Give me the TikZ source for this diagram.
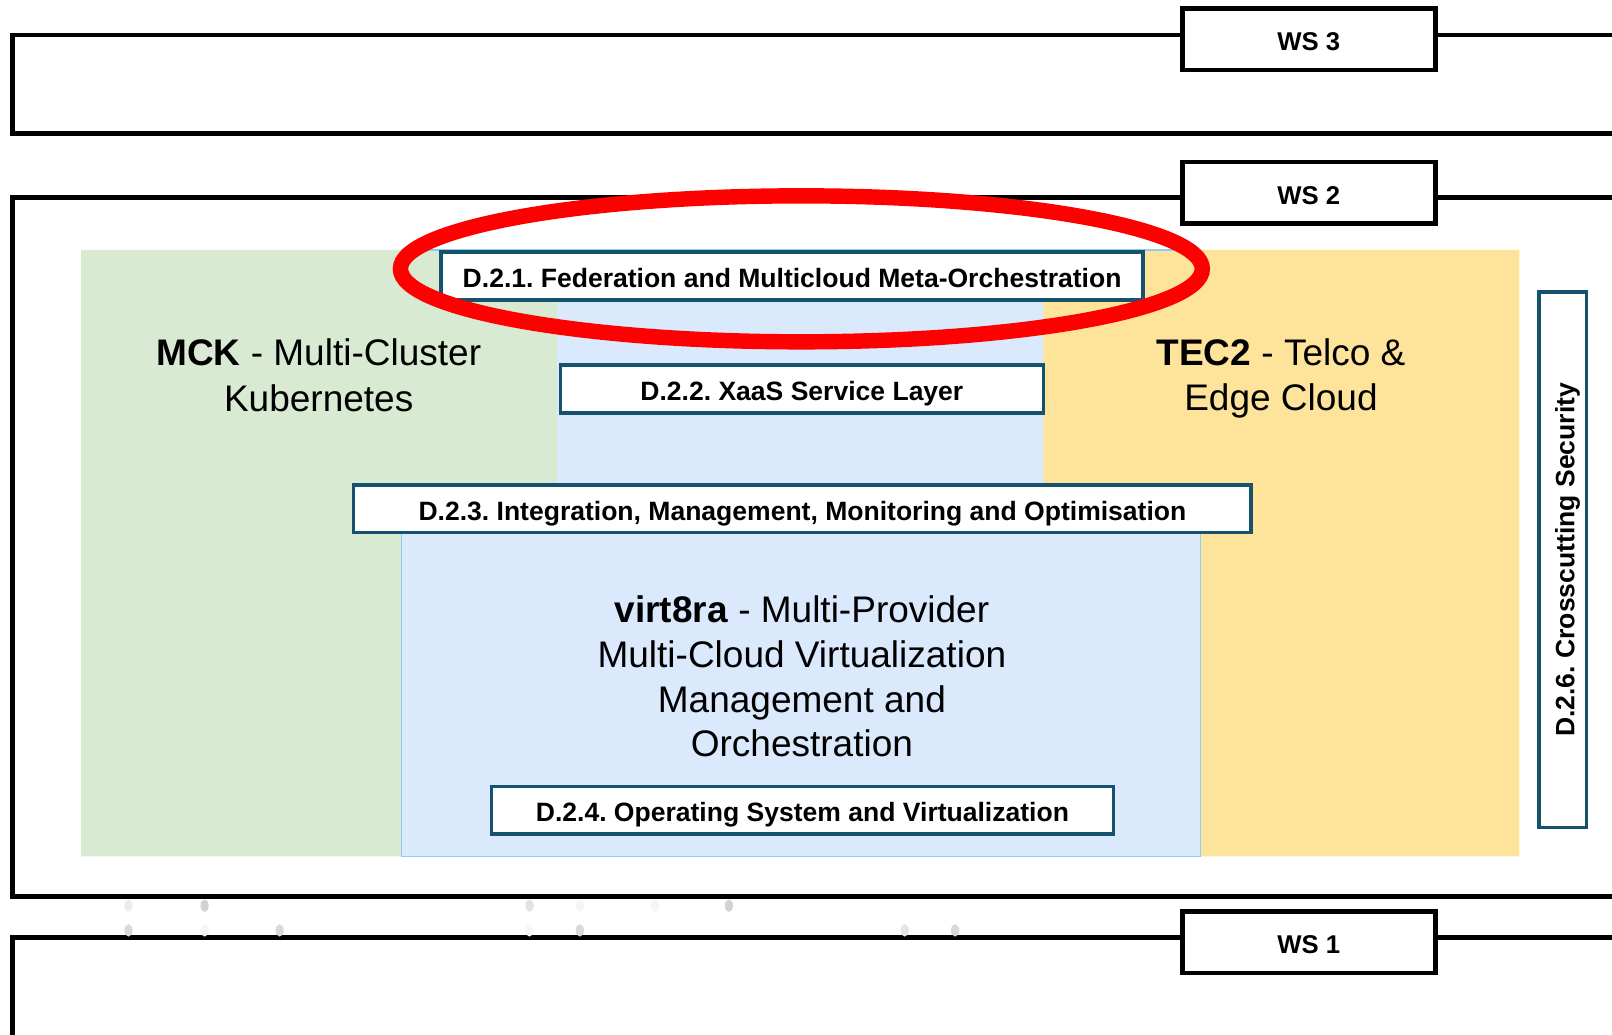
\documentclass[tikz,border=0pt]{standalone}
\usepackage{fontspec}
\setmainfont{Liberation Sans}
\usepackage{tikz}
\definecolor{MckGreen}  {RGB}{217, 234, 211}
\definecolor{VirtBlue}  {RGB}{218, 233, 252}
\definecolor{VirtEdge}  {RGB}{140, 205, 245}
\definecolor{TecYellow} {RGB}{254, 227, 154}
\definecolor{TaskTeal}  {RGB}{ 20,  82, 110}
\definecolor{MarkRed}   {RGB}{255,   0,   0}
\tikzset{
  wsband/.style={line width=4.5pt, line join=miter},
  wsbox/.style={draw=black, line width=4.5pt, fill=white, inner sep=0pt,
    minimum width=246pt, minimum height=60pt, text height=22pt, text depth=0pt,
    font=\fontsize{25}{25}\selectfont\bfseries},
  taskbox/.style={draw=TaskTeal, line width=3.5pt, fill=white, inner sep=0pt,
    text height=23pt, text depth=0pt,
    font=\fontsize{25.8}{26}\selectfont\bfseries},
  groupname/.style={align=center, font=\fontsize{36}{44}\selectfont},
}
\frenchspacing

\begin{document}
\begin{tikzpicture}[x=1pt,y=-1pt]
  \useasboundingbox (0,0) rectangle (1568,1006);
  \fill[white] (0,0) rectangle (1568,1006);
  % work stream bands
  \draw[wsband] (1572,34) -- (12,34) -- (12,130) -- (1572,130);
  \draw[wsband] (1572,192) -- (12,192) -- (12,872) -- (1572,872);
  \draw[wsband] (1572,912) -- (12,912) -- (12,1010);
  % faint smudges between WS 2 and WS 1
  \foreach \x/\y/\s in {125/881/15, 199/881/35, 515/881/22, 564/881/8, 637/881/8, 709/881/35,
                        125/905/30, 199/905/8, 272/905/30, 515/905/6, 564/905/30, 880/905/20, 929/905/30}
    \fill[gray!\s] (\x,\y) ellipse (4pt and 6pt);
  % component areas
  \fill[VirtBlue] (390,243) rectangle (1168,833);
  \fill[MckGreen] (79,243) -- (542,243) -- (542,495) -- (390,495) -- (390,833) -- (79,833) -- cycle;
  \fill[TecYellow] (1015,243) -- (1478,243) -- (1478,833) -- (1168,833) -- (1168,495) -- (1015,495) -- cycle;
  \draw[VirtEdge, line width=1.5pt] (390,243) -- (1168,243) (390,833) -- (1168,833);
  \draw[VirtEdge, line width=0.8pt] (390,495) -- (390,833) (1168,495) -- (1168,833);
  % work stream labels
  \node[wsbox] (ws3) at (1273,38) {WS 3};
  \node[wsbox] (ws2) at (1273,187.5) {WS 2};
  \node[wsbox] (ws1) at (1273,916.5) {WS 1};
  % component names
  \node[groupname] (mck) at (310,365) {\textbf{MCK} - Multi-Cluster\\Kubernetes};
  \node[groupname] (tec) at (1246,368) {\textbf{TEC2} - Telco \&\\Edge Cloud};
  \node[groupname, font=\fontsize{36}{43.5}\selectfont] (virt) at (780,658)
    {\textbf{virt8ra} - Multi-Provider\\Multi-Cloud Virtualization\\Management and\\Orchestration};
  % tasks
  \node[taskbox, minimum width=683pt, minimum height=47pt] (d21) at (770.5,268.5)
    {D.2.1. Federation and Multicloud Meta-Orchestration};
  \node[taskbox, minimum width=470pt, minimum height=47pt] (d22) at (780,378.5)
    {D.2.2. XaaS Service Layer};
  \node[taskbox, minimum width=873pt, minimum height=46pt] (d23) at (780.5,495)
    {D.2.3. Integration, Management, Monitoring and Optimisation};
  \node[taskbox, minimum width=605pt, minimum height=46pt] (d24) at (780.5,788)
    {D.2.4. Operating System and Virtualization};
  \node[taskbox, rotate=90, minimum width=521pt, minimum height=46pt] (d26) at (1520,544.5)
    {D.2.6. Crosscutting Security};
  % highlight
  \draw[MarkRed, line width=15pt] (779.5,261.5) ellipse (390pt and 71pt);
\end{tikzpicture}
\end{document}
